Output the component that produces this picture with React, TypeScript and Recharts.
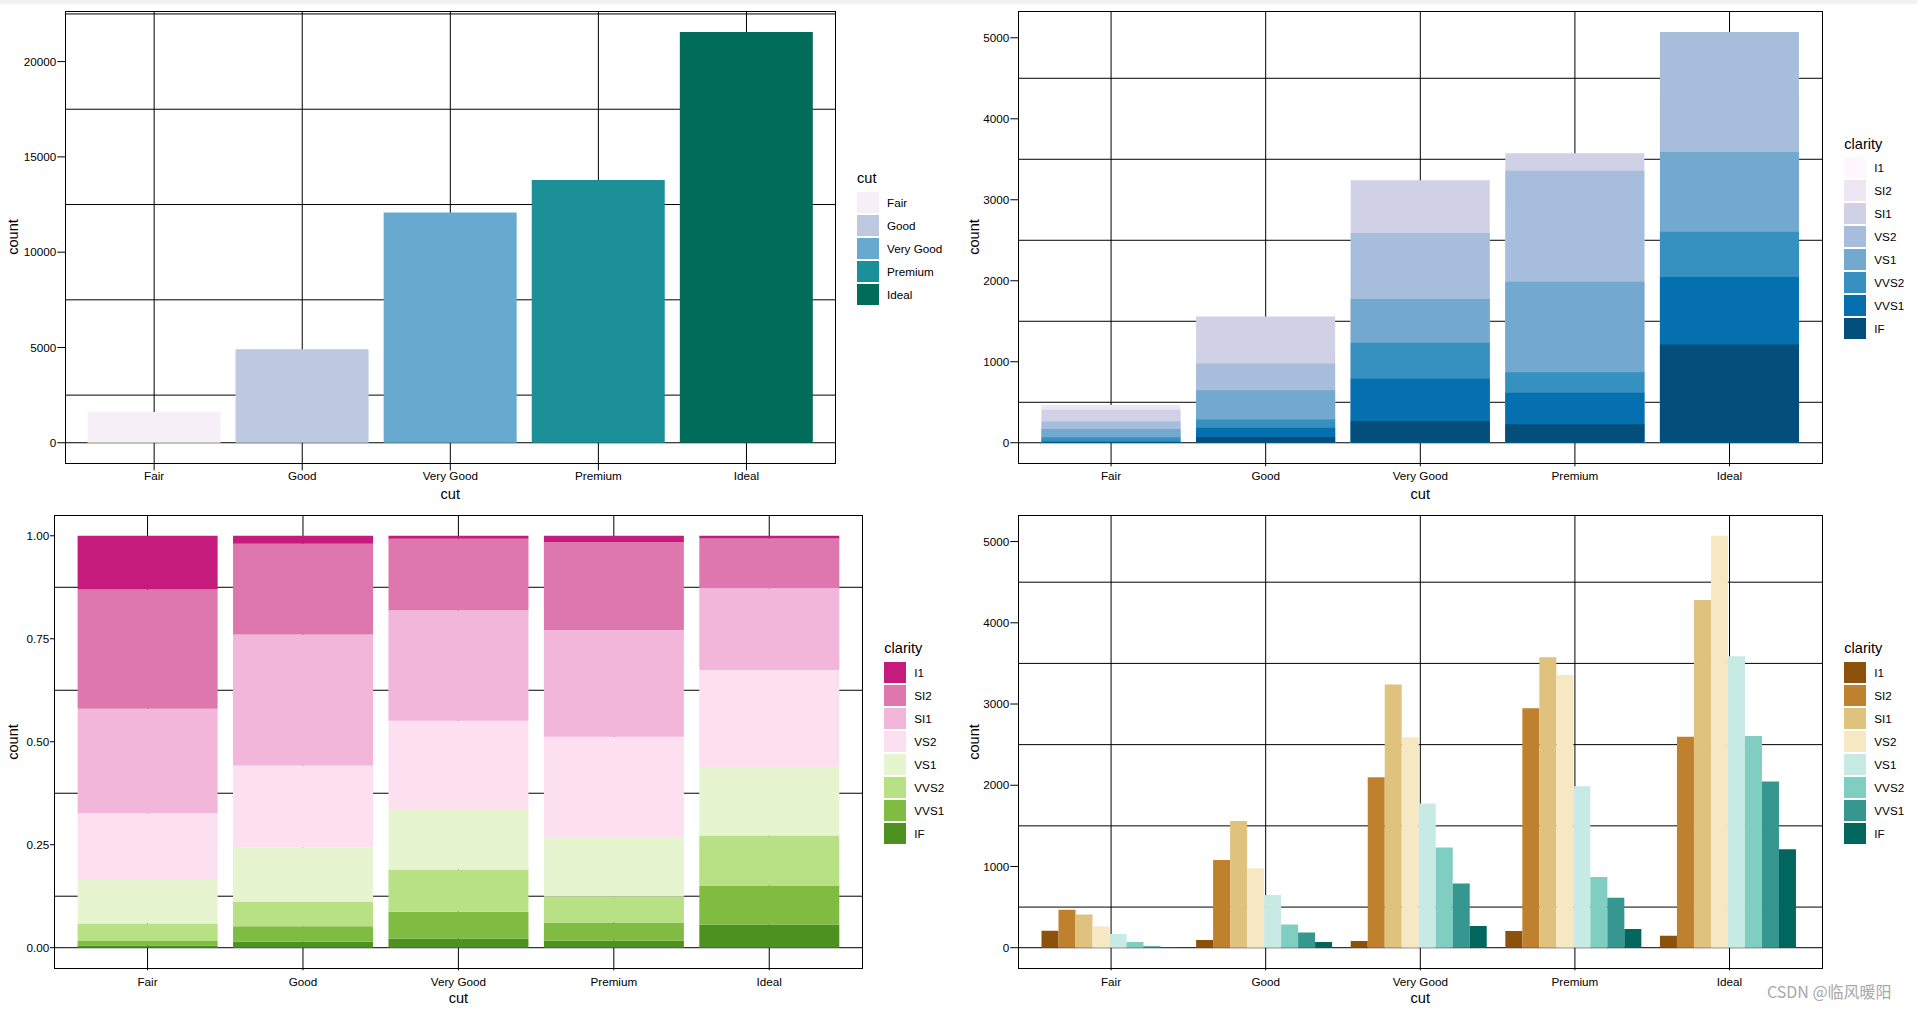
import React from 'react';
import { BarChart, Bar, XAxis, YAxis, CartesianGrid, Cell } from 'recharts';

// ---------- data ----------
const cuts = ['Fair', 'Good', 'Very Good', 'Premium', 'Ideal'];
const cutCounts = [1610, 4906, 12082, 13791, 21551];
const clarityLevels = ['I1', 'SI2', 'SI1', 'VS2', 'VS1', 'VVS2', 'VVS1', 'IF'];
const countI1 = [210, 96, 84, 205, 146];
const countSI2 = [466, 1081, 2100, 2949, 2598];
const countSI1 = [408, 1560, 3240, 3575, 4282];
const countVS2 = [261, 978, 2591, 3357, 5071];
const countVS1 = [170, 648, 1775, 1989, 3589];
const countVVS2 = [69, 286, 1235, 870, 2606];
const countVVS1 = [17, 186, 789, 616, 2047];
const countIF = [9, 71, 268, 230, 1212];

const cutColors = ['#F6EFF7', '#BDC9E1', '#67A9CF', '#1C9099', '#016C59'];
const puBuColors = ['#FFF7FB', '#ECE7F2', '#D0D1E6', '#A6BDDB', '#74A9CF', '#3690C0', '#0570B0', '#034E7B'];
const piYGColors = ['#C51B7D', '#DE77AE', '#F1B6DA', '#FDE0EF', '#E6F5D0', '#B8E186', '#7FBC41', '#4D9221'];
const brBGColors = ['#8C510A', '#BF812D', '#DFC27D', '#F6E8C3', '#C7EAE5', '#80CDC1', '#35978F', '#01665E'];

const tlYTicks = [0, 5000, 10000, 15000, 20000];
const tlYMinor = [2500, 7500, 12500, 17500, 22500];
const trYTicks = [0, 1000, 2000, 3000, 4000, 5000];
const trYMinor = [500, 1500, 2500, 3500, 4500];
const blYTicks = [0, 0.25, 0.5, 0.75, 1];
const blYMinor = [0.125, 0.375, 0.625, 0.875];

const clarityCounts = [countI1, countSI2, countSI1, countVS2, countVS1, countVVS2, countVVS1, countIF];

const cutTable = cuts.map((c, i) => ({ cut: c, count: cutCounts[i] }));
const clarityTable = cuts.map((c, i) => {
  const row: any = { cut: c };
  clarityLevels.forEach((k, j) => {
    row[k] = clarityCounts[j][i];
  });
  return row;
});
// proportions within each cut (position = "fill")
const fillTable = cuts.map((c, i) => {
  const total = clarityCounts.reduce((s, arr) => s + arr[i], 0);
  const row: any = { cut: c };
  clarityLevels.forEach((k, j) => {
    row[k] = clarityCounts[j][i] / total;
  });
  return row;
});

const maxCut = Math.max(...cutCounts);
const maxClarity = Math.max(...clarityCounts.flat());

// ---------- styling ----------
const FONT = '"Liberation Sans", Arial, Helvetica, sans-serif';
const TICK_FS = 11.7;
const TITLE_FS = 14.6;

type Rect = { left: number; top: number; right: number; bottom: number };
type Box = { x: number; y: number; w: number; h: number };

const pTL: Rect = { left: 65.3, top: 11.5, right: 835.3, bottom: 463.3 };
const pTR: Rect = { left: 1018.3, top: 11.5, right: 1822.3, bottom: 463.3 };
const pBL: Rect = { left: 54.3, top: 515.2, right: 862.5, bottom: 968.3 };
const pBR: Rect = { left: 1018.3, top: 515.2, right: 1822.3, bottom: 968.3 };

const YW = 50;
const XH = 30;

function margins(p: Rect, b: Box) {
  return {
    top: p.top - b.y,
    left: p.left - b.x - YW,
    right: b.x + b.w - p.right,
    bottom: b.y + b.h - p.bottom - XH,
  };
}

function Frame({ p }: { p: Rect }) {
  return (
    <div
      style={{
        position: 'absolute',
        left: p.left - 0.5,
        top: p.top - 0.5,
        width: p.right - p.left + 1,
        height: p.bottom - p.top + 1,
        border: '1px solid #000',
        boxSizing: 'border-box',
        pointerEvents: 'none',
      }}
    />
  );
}

function Titles({ p, xTitleY, yTitleX }: { p: Rect; xTitleY: number; yTitleX: number }) {
  return (
    <>
      <div
        style={{
          position: 'absolute',
          left: (p.left + p.right) / 2,
          top: xTitleY,
          transform: 'translate(-50%, -50%)',
          fontFamily: FONT,
          fontSize: TITLE_FS,
          color: '#000',
          whiteSpace: 'nowrap',
          lineHeight: 1,
        }}
      >
        cut
      </div>
      <div
        style={{
          position: 'absolute',
          left: yTitleX,
          top: (p.top + p.bottom) / 2,
          transform: 'translate(-50%, -50%) rotate(-90deg)',
          fontFamily: FONT,
          fontSize: TITLE_FS,
          color: '#000',
          whiteSpace: 'nowrap',
          lineHeight: 1,
        }}
      >
        count
      </div>
    </>
  );
}

function Legend({ x, titleY, keyTop, title, labels, colors }: { x: number; titleY: number; keyTop: number; title: string; labels: string[]; colors: string[] }) {
  return (
    <div style={{ position: 'absolute', left: 0, top: 0, fontFamily: FONT }}>
      <div
        style={{
          position: 'absolute',
          left: x,
          top: titleY,
          transform: 'translateY(-50%)',
          fontSize: TITLE_FS,
          lineHeight: 1,
          whiteSpace: 'nowrap',
          color: '#000',
        }}
      >
        {title}
      </div>
      {labels.map((l, i) => (
        <React.Fragment key={l}>
          <div
            style={{
              position: 'absolute',
              left: x,
              top: keyTop + i * 23,
              width: 22,
              height: 21,
              background: colors[i],
            }}
          />
          <div
            style={{
              position: 'absolute',
              left: x + 30,
              top: keyTop + i * 23 + 10.5,
              transform: 'translateY(-50%)',
              fontSize: TICK_FS,
              lineHeight: 1,
              whiteSpace: 'nowrap',
              color: '#000',
            }}
          >
            {l}
          </div>
        </React.Fragment>
      ))}
    </div>
  );
}

const tickStyle = { fill: '#000', fontSize: TICK_FS, fontFamily: FONT };

function chartStyle(b: Box): React.CSSProperties {
  return { position: 'absolute', left: b.x, top: b.y };
}

// ---------- Top-left: counts by cut ----------
function TopLeft() {
  const b: Box = { x: 0, y: 0, w: 850, h: 520 };
  const pw = pTL.right - pTL.left;
  return (
    <div style={chartStyle(b)}>
      <BarChart width={b.w} height={b.h} data={cutTable} margin={margins(pTL, b)} barCategoryGap="5%">
        <CartesianGrid
          stroke="#000"
          strokeWidth={1}
          horizontalValues={[...tlYTicks, ...tlYMinor]}
          verticalValues={cuts}
        />
        <XAxis
          dataKey="cut"
          type="category"
          height={XH}
          padding={{ left: pw / 52, right: pw / 52 }}
          axisLine={false}
          tickLine={{ stroke: '#000' }}
          tickSize={7}
          tickMargin={1.4}
          tick={tickStyle}
          interval={0}
        />
        <YAxis
          width={YW}
          type="number"
          domain={[-0.05 * maxCut, 1.05 * maxCut]}
          allowDataOverflow
          ticks={tlYTicks}
          axisLine={false}
          tickLine={{ stroke: '#000' }}
          tickSize={8}
          tickMargin={1}
          tick={tickStyle}
        />
        <Bar dataKey="count" isAnimationActive={false}>
          {cutTable.map((d, i) => (
            <Cell key={d.cut} fill={cutColors[i]} />
          ))}
        </Bar>
      </BarChart>
    </div>
  );
}

// ---------- Top-right: overlapping (identity) bars by clarity ----------
function TopRight() {
  const b: Box = { x: 950, y: 0, w: 890, h: 520 };
  const pw = pTR.right - pTR.left;
  return (
    <div style={chartStyle(b)}>
      <BarChart width={b.w} height={b.h} data={clarityTable} margin={margins(pTR, b)} barCategoryGap="5%" barGap={0}>
        <CartesianGrid
          xAxisId="I1"
          stroke="#000"
          strokeWidth={1}
          horizontalValues={[...trYTicks, ...trYMinor]}
          verticalValues={cuts}
        />
        {clarityLevels.map((k, i) => (
          <XAxis
            key={k}
            xAxisId={k}
            dataKey="cut"
            type="category"
            height={XH}
            hide={i !== 0}
            padding={{ left: pw / 52, right: pw / 52 }}
            axisLine={false}
            tickLine={{ stroke: '#000' }}
            tickSize={3}
            tickMargin={5.4}
            tick={tickStyle}
            interval={0}
          />
        ))}
        <YAxis
          width={YW}
          type="number"
          domain={[-0.05 * maxClarity, 1.05 * maxClarity]}
          allowDataOverflow
          ticks={trYTicks}
          axisLine={false}
          tickLine={{ stroke: '#000' }}
          tickSize={8}
          tickMargin={1}
          tick={tickStyle}
        />
        {clarityLevels.map((k, i) => (
          <Bar key={k} xAxisId={k} dataKey={k} fill={puBuColors[i]} isAnimationActive={false} />
        ))}
      </BarChart>
    </div>
  );
}

// ---------- Bottom-left: proportions (fill) ----------
function BottomLeft() {
  const b: Box = { x: 0, y: 500, w: 880, h: 510 };
  const pw = pBL.right - pBL.left;
  const order = [...clarityLevels].map((k, i) => ({ k, c: piYGColors[i] })).reverse();
  return (
    <div style={chartStyle(b)}>
      <BarChart width={b.w} height={b.h} data={fillTable} margin={margins(pBL, b)} barCategoryGap="5%">
        <CartesianGrid
          stroke="#000"
          strokeWidth={1}
          horizontalValues={[...blYTicks, ...blYMinor]}
          verticalValues={cuts}
        />
        <XAxis
          dataKey="cut"
          type="category"
          height={XH}
          padding={{ left: pw / 52, right: pw / 52 }}
          axisLine={false}
          tickLine={{ stroke: '#000' }}
          tickSize={2}
          tickMargin={7}
          tick={tickStyle}
          interval={0}
        />
        <YAxis
          width={YW}
          type="number"
          domain={[-0.05, 1.05]}
          allowDataOverflow
          ticks={blYTicks}
          tickFormatter={(v: number) => v.toFixed(2)}
          axisLine={false}
          tickLine={{ stroke: '#000' }}
          tickSize={4.3}
          tickMargin={0.7}
          tick={tickStyle}
        />
        {order.map(({ k, c }) => (
          <Bar key={k} dataKey={k} stackId="s" fill={c} isAnimationActive={false} />
        ))}
      </BarChart>
    </div>
  );
}

// ---------- Bottom-right: dodged bars ----------
function BottomRight() {
  const b: Box = { x: 950, y: 500, w: 890, h: 510 };
  const pw = pBR.right - pBR.left;
  return (
    <div style={chartStyle(b)}>
      <BarChart width={b.w} height={b.h} data={clarityTable} margin={margins(pBR, b)} barCategoryGap="5%" barGap={0}>
        <CartesianGrid
          stroke="#000"
          strokeWidth={1}
          horizontalValues={[...trYTicks, ...trYMinor]}
          verticalValues={cuts}
        />
        <XAxis
          dataKey="cut"
          type="category"
          height={XH}
          padding={{ left: pw / 52, right: pw / 52 }}
          axisLine={false}
          tickLine={{ stroke: '#000' }}
          tickSize={2}
          tickMargin={7}
          tick={tickStyle}
          interval={0}
        />
        <YAxis
          width={YW}
          type="number"
          domain={[-0.05 * maxClarity, 1.05 * maxClarity]}
          allowDataOverflow
          ticks={trYTicks}
          axisLine={false}
          tickLine={{ stroke: '#000' }}
          tickSize={8}
          tickMargin={1}
          tick={tickStyle}
        />
        {clarityLevels.map((k, i) => (
          <Bar key={k} dataKey={k} fill={brBGColors[i]} isAnimationActive={false} />
        ))}
      </BarChart>
    </div>
  );
}

export default function App() {
  return (
    <div
      style={{
        position: 'absolute',
        left: 0,
        top: 0,
        width: 1917,
        height: 1010,
        background: '#fff',
        overflow: 'hidden',
      }}
    >
      <div style={{ position: 'absolute', left: 0, top: 0, width: 1917, height: 4, background: '#f2f2f2' }} />
      <TopLeft />
      <TopRight />
      <BottomLeft />
      <BottomRight />
      <Frame p={pTL} />
      <Frame p={pTR} />
      <Frame p={pBL} />
      <Frame p={pBR} />
      <Titles p={pTL} xTitleY={493.5} yTitleX={13.4} />
      <Titles p={pTR} xTitleY={493.5} yTitleX={974.4} />
      <Titles p={pBL} xTitleY={998} yTitleX={13.4} />
      <Titles p={pBR} xTitleY={998} yTitleX={974.4} />
      <Legend x={857} titleY={178} keyTop={192} title="cut" labels={cuts} colors={cutColors} />
      <Legend x={1844.3} titleY={144} keyTop={157.3} title="clarity" labels={clarityLevels} colors={puBuColors} />
      <Legend x={884.3} titleY={648.3} keyTop={662} title="clarity" labels={clarityLevels} colors={piYGColors} />
      <Legend x={1844.3} titleY={648.3} keyTop={662} title="clarity" labels={clarityLevels} colors={brBGColors} />
      <div
        style={{
          position: 'absolute',
          left: 1767,
          top: 991,
          transform: 'translateY(-50%)',
          fontFamily: '"Noto Sans CJK SC", "Noto Sans", sans-serif',
          fontSize: 16,
          lineHeight: 1,
          color: '#a8a8a8',
          whiteSpace: 'nowrap',
        }}
      >
        CSDN @临风暖阳
      </div>
    </div>
  );
}
